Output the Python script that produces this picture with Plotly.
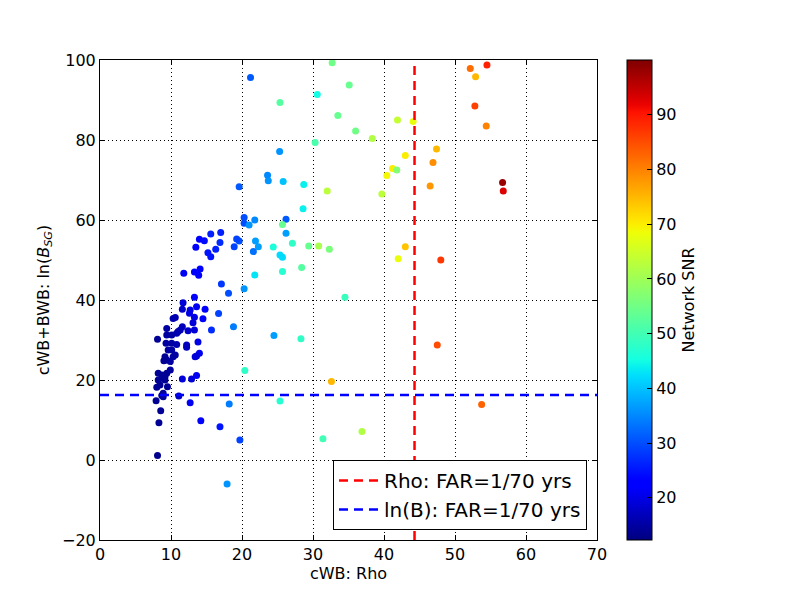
import plotly.graph_objects as go
import numpy as np

# ---- data ----
rho = [17.1,18.1,20.3,13.3,11.7,11.6,12.7,12.6,13.6,14.8,16.7,13.3,14.5,13.1,10.6,10.3,18.8,11.6,15.7,9.4,
       11.3,12.4,13.3,9.4,10.1,10.8,11.0,8.1,9.3,10.1,10.8,13.8,12.2,12.2,9.6,10.1,14.0,13.4,13.6,10.6,
       10.3,9.15,9.4,9.9,9.0,9.9,8.2,8.7,9.15,9.4,8.9,8.2,9.15,11.6,12.9,13.6,8.45,8.0,9.5,8.9,
       8.7,8.9,11.1,7.9,12.7,18.2,8.55,8.3,14.2,16.9,8.1,
       17.9,19.6,23.6,23.7,25.8,28.7,32.0,28.6,20.3,21.8,20.3,21.0,26.2,25.7,26.2,21.9,22.3,21.6,24.4,27.1,
       25.35,25.7,29.4,30.8,32.3,21.8,25.7,28.4,19.6,19.25,18.9,17.0,16.9,15.6,16.3,15.2,15.6,14.0,14.7,13.5,
       11.8,13.3,14.1,13.9,21.2,25.35,32.7,35.1,30.6,33.5,36.0,38.35,30.3,41.9,44.1,25.3,39.7,43.0,41.2,41.8,
       40.4,46.5,52.15,54.5,52.9,52.8,54.4,47.4,46.9,56.7,56.8,43.0,42.0,48.0,34.5,24.5,28.3,47.5,20.4,32.6,
       25.35,53.75,19.7,31.4,36.9]
lnB = [44.0,41.7,42.8,40.7,39.3,37.7,37.5,36.7,38.3,37.7,36.6,35.7,35.3,34.3,35.6,35.4,33.3,33.3,32.5,32.9,
       32.5,32.3,32.5,31.25,31.25,31.7,32.1,30.2,29.2,29.2,28.9,29.5,28.75,28.2,27.5,27.5,26.7,25.8,26.0,26.25,
       25.8,25.8,25.0,24.6,24.8,22.5,21.7,21.25,20.8,21.7,20.4,20.0,20.0,20.25,20.25,21.1,18.75,18.2,18.3,16.7,
       16.1,15.8,16.0,14.8,14.3,14.0,12.3,9.3,9.8,8.3,1.1,
       -6.0,68.3,71.2,69.8,69.6,68.9,67.25,62.8,60.6,60.0,59.2,58.75,60.2,58.9,56.7,54.75,53.3,52.1,53.25,54.2,
       51.25,50.7,53.5,53.5,52.7,46.25,47.1,48.1,54.75,55.25,53.3,56.9,54.4,56.5,52.7,51.8,50.8,55.2,54.8,53.2,
       46.7,47.0,47.75,46.2,95.6,89.4,99.3,93.75,91.4,86.1,82.25,80.4,79.4,85.0,84.6,77.1,66.5,76.1,72.9,72.5,
       71.1,68.5,97.9,98.75,95.8,88.5,83.5,77.75,74.4,69.4,67.25,53.3,50.3,50.0,40.7,31.1,30.3,28.75,22.4,19.6,
       14.75,13.9,5.0,5.3,7.1]
snr = [28,30,36,22,19,18,20,20,21,22,29,20,22,19,16,16,34,17,27,15,
       17,18,19,15,15,16,16,14,15,15,16,20,17,17,15,15,21,19,19,15,
       15,14,14,15,14,15,14,14,14,14,14,14,14,19,19,21,14,14,14,14,
       14,14,17,14,21,34,14,14,22,25,13.5,
       36,31,35,36,40,44,63,44,30,35,30,36,31,54,37,37,37,33,46,48,
       42,42,54,61,56,43,47,52,30,29,29,26,27,26,26,25,25,23,24,22,
       21,23,22,22,31,52,55,54,45,54,55,62,51,64,68,36,63,70,70,57,
       69,78,82,89,75,86,80,75,79,98,93,74,68,87,49,37,48,85,48,75,
       47,83,29,50,62]

rho_threshold = 44.3
lnb_threshold = 16.25
x_ticks = [0, 10, 20, 30, 40, 50, 60, 70]
y_ticks = [-20, 0, 20, 40, 60, 80, 100]
cbar_ticks = [20, 30, 40, 50, 60, 70, 80, 90]

# matplotlib jet colormap
def jet(t):
    r = np.interp(t, [0, 0.35, 0.66, 0.89, 1], [0, 0, 1, 1, 0.5])
    g = np.interp(t, [0, 0.125, 0.375, 0.64, 0.91, 1], [0, 0, 1, 1, 0, 0])
    b = np.interp(t, [0, 0.11, 0.34, 0.65, 1], [0.5, 1, 1, 0, 0])
    return f"rgb({int(r*255)},{int(g*255)},{int(b*255)})"

jet_scale = [[t, jet(t)] for t in np.linspace(0, 1, 65)]

FONT = "DejaVu Sans"
fig = go.Figure()
fig.add_trace(go.Scatter(
    x=rho, y=lnB, mode="markers", showlegend=False,
    marker=dict(size=7, color=snr, colorscale=jet_scale, cmin=12.3, cmax=100,
                line=dict(width=0),
                colorbar=dict(x=(627-100)/497, xanchor="left", xpad=0, ypad=0,
                              y=0.5, yanchor="middle", len=1, lenmode="fraction",
                              thickness=25, outlinecolor="black", outlinewidth=1,
                              tickvals=cbar_ticks, ticks="inside", ticklen=5,
                              tickcolor="black", tickfont=dict(size=16, family=FONT, color="black"),
                              title=dict(text="Network SNR", side="right",
                                         font=dict(size=16, family=FONT, color="black"))))))
fig.add_trace(go.Scatter(x=[rho_threshold, rho_threshold], y=[-20, 100], mode="lines",
                         line=dict(color="red", width=2.5, dash="9px,6px"),
                         name="Rho: FAR=1/70 yrs"))
fig.add_trace(go.Scatter(x=[0, 70], y=[lnb_threshold, lnb_threshold], mode="lines",
                         line=dict(color="blue", width=2.5, dash="9px,6px"),
                         name="ln(B): FAR=1/70 yrs"))

axis_common = dict(showline=True, linecolor="black", linewidth=1, mirror="ticks",
                   ticks="inside", ticklen=5, tickcolor="black",
                   showgrid=True, gridcolor="black", griddash="1px,3px", gridwidth=1,
                   zeroline=False, tickfont=dict(size=16, family=FONT, color="black"))
fig.update_xaxes(range=[0, 70], tickvals=x_ticks,
                 title=dict(text="cWB: Rho", font=dict(size=16, family=FONT, color="black"), standoff=3),
                 **axis_common)
fig.update_yaxes(range=[-20, 100], tickvals=y_ticks,
                 title=dict(text="cWB+BWB: ln(<i>B</i><sub><i>SG</i></sub>)",
                            font=dict(size=16, family=FONT, color="black"), standoff=8),
                 **axis_common)
fig.update_layout(width=800, height=600, margin=dict(l=92, r=211, t=52, b=68),
                  paper_bgcolor="white", plot_bgcolor="white",
                  font=dict(family=FONT, color="black"),
                  legend=dict(x=(587-100)/497, xanchor="right", y=(540-530)/480, yanchor="bottom",
                              bordercolor="black", borderwidth=1, bgcolor="white",
                              itemwidth=40,
                              font=dict(size=20, family=FONT, color="black")))
fig.write_html("out.html")
